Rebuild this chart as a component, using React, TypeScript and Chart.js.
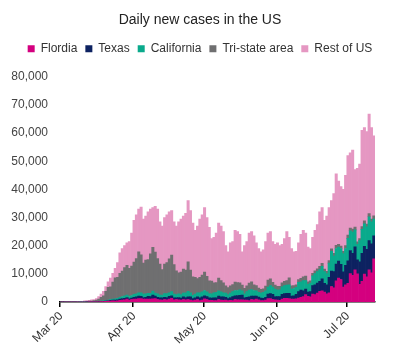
import React, { useEffect, useRef } from "react";
import { Chart, registerables } from "chart.js";

Chart.register(...registerables);

// ---- Data (day 0 = 1 Mar 2020, one value per day through 12 Jul 2020) ----
const START_YEAR = 2020;
const START_MONTH = 2; // March (0-based)
const MONTH_TICKS: Record<string, string> = {
  "2020-03-01": "Mar 20",
  "2020-04-01": "Apr 20",
  "2020-05-01": "May 20",
  "2020-06-01": "Jun 20",
  "2020-07-01": "Jul 20",
};
const SERIES_NAMES = ["Flordia", "Texas", "California", "Tri-state area", "Rest of US"];
const SERIES_COLORS = ["#d4007f", "#0d2261", "#0aaa8c", "#6f6f70", "#e597c2"];

const FLORIDA = [
  0, 0, 0, 0, 0, 0, 0, 0, 0,
  5, 10, 15, 20, 30, 40,
  60, 100, 120, 150, 250, 300, 350, 400, 300, 400,
  600, 700, 800, 1000, 700, 900, 1000, 1000, 1200, 1200,
  1000, 1000, 1000, 1000, 1100, 1200, 900, 800, 700, 900,
  800, 1000, 1300, 800, 900, 800, 700, 900, 800, 900,
  700, 500, 700, 900, 500, 700, 1100, 900, 600, 600,
  500, 500, 900, 700, 600, 700, 500, 600, 500, 900,
  800, 800, 800, 700, 700, 500, 900, 800, 1000, 750,
  500, 500, 650, 1200, 1200, 900, 750, 700, 600, 1000,
  1300, 1300, 1200, 1000, 1000, 1100, 1400, 1700, 1900, 2600,
  2000, 1800, 2800, 2600, 3200, 3800, 4000, 3500, 2900, 3300,
  5500, 5000, 7500, 8500, 8000, 5300, 6100, 6600, 10100, 9500,
  11400, 10000, 6300, 7300, 9900, 8900, 11400, 10400, 15300,
];

const TEXAS = [
  0, 0, 0, 0, 0, 0, 0, 0, 0, 0,
  5, 10, 15, 20, 25,
  30, 40, 60, 80, 100, 150, 200, 250, 350, 400,
  450, 550, 500, 600, 450, 500, 700, 800, 900, 800,
  600, 700, 1000, 900, 1400, 900, 800, 700, 800, 800,
  800, 1000, 900, 700, 600, 800, 700, 900, 800, 900,
  1100, 700, 800, 900, 1000, 1100, 1100, 1000, 900, 800,
  1000, 1000, 1200, 1100, 1200, 1000, 700, 1000, 1400, 1300,
  1500, 1600, 1700, 800, 1000, 1300, 1200, 1300, 1100, 1000,
  900, 800, 1000, 1600, 1800, 1800, 1200, 1200, 1300, 1700,
  1700, 1800, 1900, 1100, 1200, 1600, 2300, 2500, 2100, 2000,
  1500, 1900, 3000, 3500, 3500, 3500, 4200, 3100, 3200, 5500,
  5500, 5800, 6000, 6000, 5400, 5400, 6900, 8000, 8200, 7800,
  8200, 5000, 8000, 10000, 9900, 9800, 10400, 10300, 8200,
];

const CALIFORNIA = [
  0, 0, 0, 0, 0,
  5, 10, 15, 20, 25, 30, 40, 50, 60, 70,
  100, 100, 150, 200, 250, 250, 300, 400, 450, 500,
  600, 700, 900, 900, 800, 900, 1000, 1100, 1200, 1300,
  1200, 1200, 1100, 1200, 1400, 1100, 1200, 1000, 1000, 1300,
  1400, 1300, 1500, 1300, 1100, 1300, 1200, 1400, 1700, 2000,
  1500, 1200, 1300, 1500, 1800, 1800, 1900, 1700, 1500, 1500,
  1800, 1900, 1900, 1800, 1500, 1500, 1400, 1600, 1800, 1900,
  1800, 1900, 1500, 1400, 2000, 2400, 2300, 2000, 1900, 1700,
  1800, 2100, 2300, 2500, 2800, 2600, 2600, 2300, 2400, 2700,
  2800, 2900, 3000, 2500, 2600, 2500, 3300, 3000, 3600, 3000,
  2800, 3000, 3500, 4000, 4100, 4200, 4500, 4200, 4000, 5000,
  7000, 5500, 5500, 5000, 5600, 6500, 6000, 8000, 7000, 7500,
  6000, 5500, 7500, 8500, 8000, 8000, 8500, 7800, 6000,
];

const TRI_STATE = [
  0, 0, 0, 0,
  5, 10, 20, 30, 50, 70, 100, 150, 200, 250, 350,
  500, 800, 1300, 1800, 3200, 4500, 4500, 6000, 7500, 7500,
  8500, 9000, 10000, 10500, 10000, 10500, 11500, 12500, 14500, 13500,
  11000, 12000, 12000, 14000, 15500, 14500, 12500, 11000, 9000, 10500,
  11000, 12000, 13000, 10500, 8500, 7500, 8000, 8500, 8000, 10500,
  8000, 6500, 6000, 5000, 5500, 6000, 6500, 5500, 4500, 4500,
  3500, 3500, 4500, 4000, 3500, 2500, 2500, 2500, 2500, 3000,
  2800, 2500, 2000, 2000, 2000, 2500, 2800, 2000, 1800, 1500,
  1300, 1300, 1700, 2500, 2400, 1700, 1500, 1400, 1300, 1400,
  1500, 1600, 2500, 1100, 1000, 900, 1000, 1200, 1300, 1600,
  900, 800, 900, 1000, 1000, 1200, 1000, 900, 800, 900,
  900, 1000, 1100, 1000, 900, 800, 1000, 1200, 1000, 1100,
  1000, 900, 700, 1000, 1000, 1000, 1100, 1000, 1100,
];

const REST_OF_US = [
  10, 15, 25, 30, 35, 55, 60, 75, 100, 180, 235, 265, 315, 390, 415,
  510, 860, 1170, 1570, 1700, 2000, 3150, 3150, 3400, 5200,
  7350, 8050, 7800, 8000, 9550, 11700, 14800, 15600, 15200, 16900,
  15700, 15600, 16900, 15900, 14100, 16300, 17600, 15000, 15500, 16500,
  17000, 16700, 15800, 15200, 15900, 18100, 18900, 18800, 20200, 21700,
  21200, 19100, 16700, 18700, 20700, 21400, 22900, 20900, 19000, 15100,
  16200, 17600, 19500, 19400, 18200, 14300, 12700, 15300, 15300, 18400,
  18100, 17200, 11800, 15100, 15800, 17800, 17800, 17400, 15200, 14050,
  13300, 13800, 15850, 16700, 16800, 14500, 14450, 15400, 14400, 13700,
  15200, 17400, 14400, 13300, 12000, 11900, 13000, 15600, 16600, 15300,
  12300, 11500, 12800, 14400, 15700, 19300, 19800, 17300, 19600, 18800,
  17100, 21200, 25400, 22500, 21100, 22000, 25000, 28200, 26700, 28100,
  20400, 26100, 26500, 34200, 33200, 32800, 35400, 32500, 28400,
];

const Y_MAX = 80000;
const Y_STEP = 10000;

const DATES: string[] = FLORIDA.map((_, i) =>
  new Date(Date.UTC(START_YEAR, START_MONTH, 1 + i)).toISOString().slice(0, 10)
);

const FONT = "'Liberation Sans', Arial, Helvetica, sans-serif";

const legendSpacing = {
  id: "legendSpacing",
  beforeInit(chart: any) {
    const legend = chart.legend;
    if (!legend) return;
    const origFit = legend.fit;
    legend.fit = function () {
      origFit.call(this);
      this.height += 12;
    };
  },
};

export default function App() {
  const ref = useRef<HTMLCanvasElement>(null);

  useEffect(() => {
    document.body.style.margin = "0";
    const series = [FLORIDA, TEXAS, CALIFORNIA, TRI_STATE, REST_OF_US];
    const chart = new Chart(ref.current!, {
      type: "bar",
      data: {
        labels: DATES,
        datasets: series.map((values, i) => ({
          label: SERIES_NAMES[i],
          data: values,
          backgroundColor: SERIES_COLORS[i],
          borderWidth: 0,
          barPercentage: 1,
          categoryPercentage: 1,
        })),
      },
      options: {
        animation: false,
        responsive: false,
        devicePixelRatio: 1,
        layout: { padding: { left: 0, right: 0, top: 0, bottom: 0 } },
        font: { family: FONT },
        plugins: {
          title: {
            display: true,
            text: "Daily new cases in the US",
            color: "#222",
            font: { family: FONT, size: 14, weight: "normal" },
            padding: { top: 12, bottom: 6 },
          },
          legend: {
            display: true,
            labels: {
              boxWidth: 7,
              boxHeight: 7,
              padding: 8,
              color: "#333",
              font: { family: FONT, size: 12 },
            },
          },
          tooltip: { enabled: false },
        },
        scales: {
          x: {
            stacked: true,
            grid: {
              display: true,
              drawOnChartArea: false,
              drawTicks: true,
              tickLength: 5,
              lineWidth: 1.5,
              color: (ctx: any) =>
                MONTH_TICKS[DATES[ctx.index]] ? "#000" : "rgba(0,0,0,0)",
            },
            border: { display: true, color: "#000", width: 1.5 },
            ticks: {
              autoSkip: false,
              maxRotation: 45,
              minRotation: 45,
              padding: 2,
              color: "#333",
              font: { family: FONT, size: 12 },
              callback: (_v: any, i: number) => MONTH_TICKS[DATES[i]] || "",
            },
            afterFit: (scale: any) => {
              scale.height = 57;
            },
          },
          y: {
            stacked: true,
            min: 0,
            max: Y_MAX,
            grid: { display: false, drawTicks: false },
            border: { display: false },
            ticks: {
              stepSize: Y_STEP,
              padding: 12,
              color: "#444",
              font: { family: FONT, size: 12 },
              callback: (v: any) => Number(v).toLocaleString("en-US"),
            },
            afterFit: (scale: any) => {
              scale.width = 60;
            },
          },
          yRight: {
            position: "right",
            display: true,
            min: 0,
            max: Y_MAX,
            grid: { display: false, drawTicks: false },
            border: { display: false },
            ticks: { display: false },
            afterFit: (scale: any) => {
              scale.width = 25;
            },
          },
        },
      },
      plugins: [legendSpacing],
    } as any);
    return () => chart.destroy();
  }, []);

  return (
    <div style={{ width: 400, height: 359 }}>
      <canvas ref={ref} width={400} height={359} style={{ display: "block" }} />
    </div>
  );
}
